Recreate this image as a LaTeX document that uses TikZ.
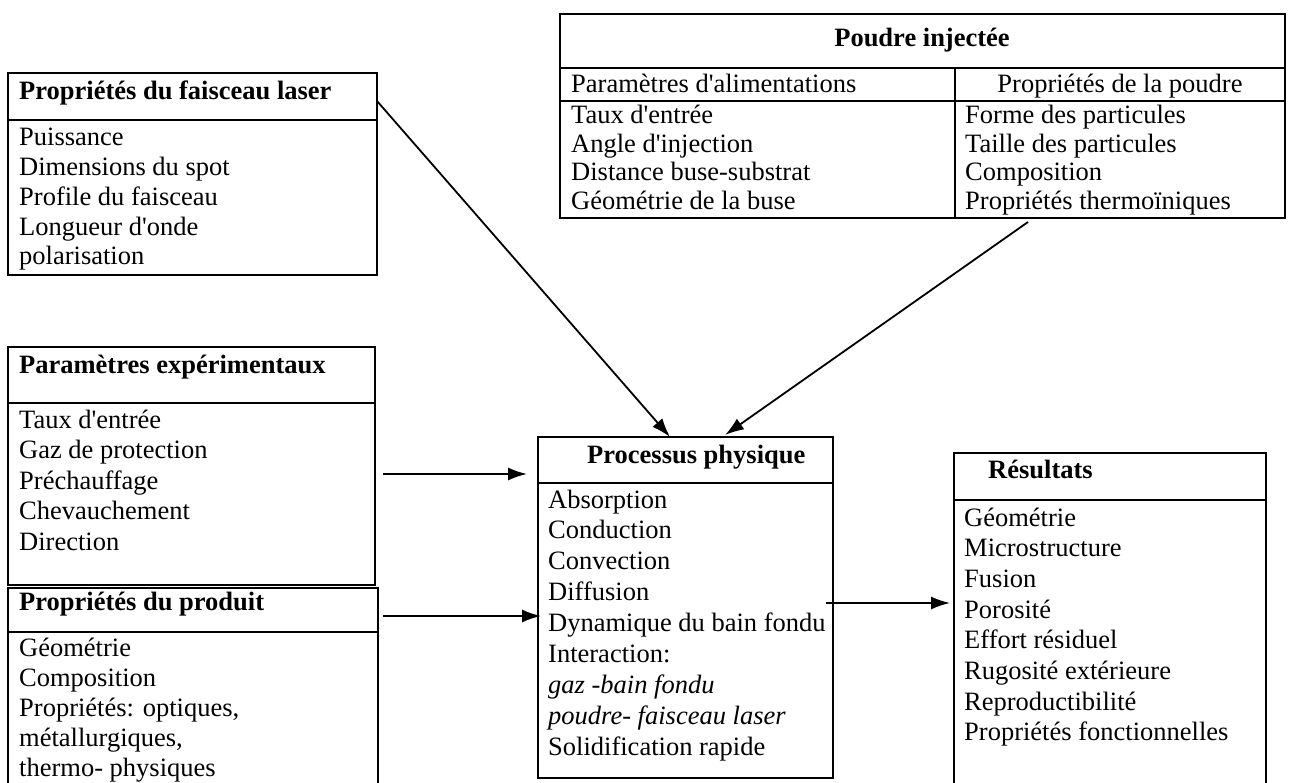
\documentclass[tikz,border=0pt]{standalone}
\usepackage{fontspec}
\setmainfont{Liberation Serif}[Ligatures=TeXOff]
\usetikzlibrary{arrows.meta,positioning}

\newcommand{\boxfont}{\fontsize{26.5pt}{30pt}\selectfont}

\tikzset{
  box/.style={draw, line width=2.4pt, inner sep=0pt, outer sep=0pt, anchor=north west},
  ttl/.style={font=\boxfont\bfseries, anchor=base west, inner sep=0pt},
  itm/.style={anchor=base west, inner sep=0pt},
  flow/.style={-{Latex[length=19pt,width=13pt]}, line width=1.8pt}
}

\begin{document}
\begin{tikzpicture}[x=1pt, y=-1pt, font=\boxfont]
\useasboundingbox (0,0) rectangle (1303,783);

\node[box, minimum width=725pt, minimum height=54pt] (pdrT) at (560,14) {};
\node[box, minimum width=395pt, minimum height=33pt] (pdrA) at (pdrT.south west) {};
\node[box, minimum width=330pt, minimum height=33pt] (pdrB) at (pdrA.north east) {};
\node[box, minimum width=395pt, minimum height=117pt] (pdrC) at (pdrA.south west) {};
\node[box, minimum width=330pt, minimum height=117pt] (pdrD) at (pdrC.north east) {};

\node[box, minimum width=369pt, minimum height=47pt] (lasH) at (8,73) {};
\node[box, minimum width=369pt, minimum height=155pt] (lasB) at (lasH.south west) {};

\node[box, minimum width=367pt, minimum height=56pt] (parH) at (8,347) {};
\node[box, minimum width=367pt, minimum height=182pt] (parB) at (parH.south west) {};

\node[box, minimum width=370pt, minimum height=44pt] (prdH) at (8,588) {};
\node[box, minimum width=370pt, minimum height=170pt] (prdB) at (prdH.south west) {};

\node[box, minimum width=295pt, minimum height=46pt] (procH) at (538,437) {};
\node[box, minimum width=295pt, minimum height=295pt] (procB) at (procH.south west) {};

\node[box, minimum width=312pt, minimum height=47pt] (resH) at (954,453) {};
\node[box, minimum width=312pt, minimum height=300pt] (resB) at (resH.south west) {};

\node[ttl, anchor=base] (pdrTxt) at (922,47) {Poudre injectée};
\node[itm] (pdrAtxt) at (571,93) {Paramètres d'alimentations};
\node[itm, anchor=base] (pdrBtxt) at (1120,93) {Propriétés de la poudre};
\foreach \t [count=\i from 0] in {Taux d'entrée, Angle d'injection, Distance buse-substrat, Géométrie de la buse}
  \node[itm] (pdrL\i) at (571,124+28.5*\i) {\t};
\foreach \t [count=\i from 0] in {Forme des particules, Taille des particules, Composition, Propriétés thermoïniques}
  \node[itm] (pdrR\i) at (965,124+28.5*\i) {\t};

\node[ttl] (lasTxt) at (19,100) {Propriétés du faisceau laser};
\foreach \t [count=\i from 0] in {Puissance, Dimensions du spot, Profile du faisceau, Longueur d'onde, polarisation}
  \node[itm] (las\i) at (19,146+29.75*\i) {\t};

\node[ttl] (parTxt) at (19,373) {Paramètres expérimentaux};
\foreach \t [count=\i from 0] in {Taux d'entrée, Gaz de protection, Préchauffage, Chevauchement, Direction}
  \node[itm] (par\i) at (19,428+30.5*\i) {\t};

\node[ttl] (prdTxt) at (19,610) {Propriétés du produit};
\foreach \t [count=\i from 0] in {Géométrie, Composition, {Propriétés: optiques,}, {métallurgiques,}, thermo- physiques}
  \node[itm] (prd\i) at (19,656+30*\i) {\t};

\node[ttl] (procTxt) at (587,463) {Processus physique};
\foreach \t [count=\i from 0] in {Absorption, Conduction, Convection, Diffusion, Dynamique du bain fondu, Interaction:, {\itshape gaz -bain fondu}, {\itshape poudre- faisceau laser}, Solidification rapide}
  \node[itm] (proc\i) at (548,508+30.9*\i) {\t};

\node[ttl] (resTxt) at (988,478) {Résultats};
\foreach \t [count=\i from 0] in {Géométrie, Microstructure, Fusion, Porosité, Effort résiduel, Rugosité extérieure, Reproductibilité, Propriétés fonctionnelles}
  \node[itm] (res\i) at (964,526+30.7*\i) {\t};

\draw[flow] ([yshift=-4.5pt]lasH.east) -- ([xshift=132pt]procH.north west);
\draw[flow] ([xshift=468pt,yshift=-4pt]pdrC.south west) -- ([xshift=187pt,yshift=2pt]procH.north west);
\draw[flow] ([xshift=8pt,yshift=20pt]parB.east) -- ([xshift=-11pt,yshift=9pt]procH.south west);
\draw[flow] ([xshift=5pt,yshift=-6pt]prdH.east) -- ([xshift=3pt,yshift=14.5pt]procB.west);
\draw[flow] ([xshift=-7pt,yshift=27.5pt]procB.east) -- ([xshift=-4pt,yshift=47pt]resB.west);
\end{tikzpicture}
\end{document}
